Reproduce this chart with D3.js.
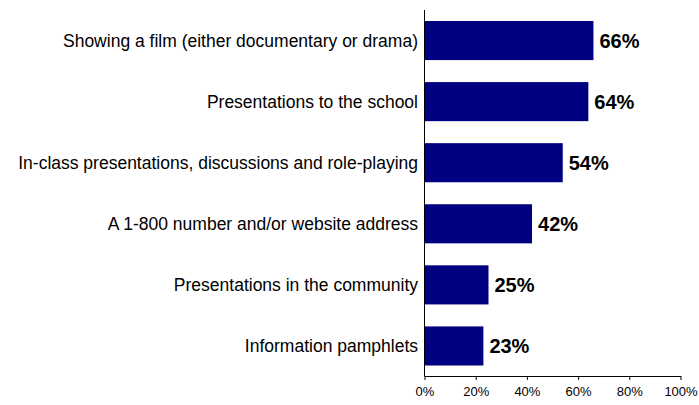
<!DOCTYPE html>
<html>
<head>
<meta charset="utf-8">
<script src="https://cdn.jsdelivr.net/npm/d3@7"></script>
<style>
  html, body { margin: 0; padding: 0; background: #fff; }
  svg { display: block; font-family: "Liberation Sans", Arial, sans-serif; }
</style>
</head>
<body>
<svg id="chart" width="699" height="405"></svg>
<script>
// Survey responses: share choosing each outreach method
const categories = [
  "Showing a film (either documentary or drama)",
  "Presentations to the school",
  "In-class presentations, discussions and role-playing",
  "A 1-800 number and/or website address",
  "Presentations in the community",
  "Information pamphlets"
];
const values = [66, 64, 54, 42, 25, 23];
const tickValues = [0, 20, 40, 60, 80, 100];

const svg = d3.select("#chart");
const margin = { left: 424.5, right: 18.5, top: 10, bottom: 28.5 };
const W = 699, H = 405;

const x = d3.scaleLinear().domain([0, 100]).range([margin.left, W - margin.right]);
const y = d3.scaleBand().domain(categories).range([margin.top, H - margin.bottom]).paddingInner(0.36).paddingOuter(0.18);

// Bars
svg.append("g").selectAll("rect").data(values).join("rect")
  .attr("x", x(0))
  .attr("y", (d, i) => y(categories[i]))
  .attr("width", d => x(d) - x(0))
  .attr("height", y.bandwidth())
  .attr("fill", "#000080");

// Value labels
svg.append("g").selectAll("text").data(values).join("text")
  .attr("x", d => x(d) + 6)
  .attr("y", (d, i) => y(categories[i]) + y.bandwidth() / 2)
  .attr("dy", "0.36em")
  .attr("font-size", 20)
  .attr("font-weight", "bold")
  .attr("fill", "#000")
  .text(d => d + "%");

// Category labels
svg.append("g").selectAll("text").data(categories).join("text")
  .attr("x", 418)
  .attr("y", d => y(d) + y.bandwidth() / 2)
  .attr("dy", "0.36em")
  .attr("text-anchor", "end")
  .attr("font-size", 17.5)
  .attr("fill", "#000")
  .text(d => d);

// Vertical category axis line
svg.append("line")
  .attr("x1", x(0)).attr("x2", x(0))
  .attr("y1", margin.top).attr("y2", H - margin.bottom)
  .attr("stroke", "#000").attr("stroke-width", 1);

// Bottom value axis
const xAxis = d3.axisBottom(x).tickValues(tickValues).tickFormat(d => d + "%").tickSize(4).tickSizeOuter(0);
const gx = svg.append("g")
  .attr("transform", `translate(0,${H - margin.bottom - 0.5})`)
  .call(xAxis);
gx.select(".domain").attr("stroke", "#000");
gx.selectAll(".tick line").attr("stroke", "#000");
gx.selectAll(".tick text")
  .attr("font-size", 13)
  .attr("font-family", "\"Liberation Sans\", Arial, sans-serif")
  .attr("fill", "#000")
  .attr("y", 11);
</script>
</body>
</html>
